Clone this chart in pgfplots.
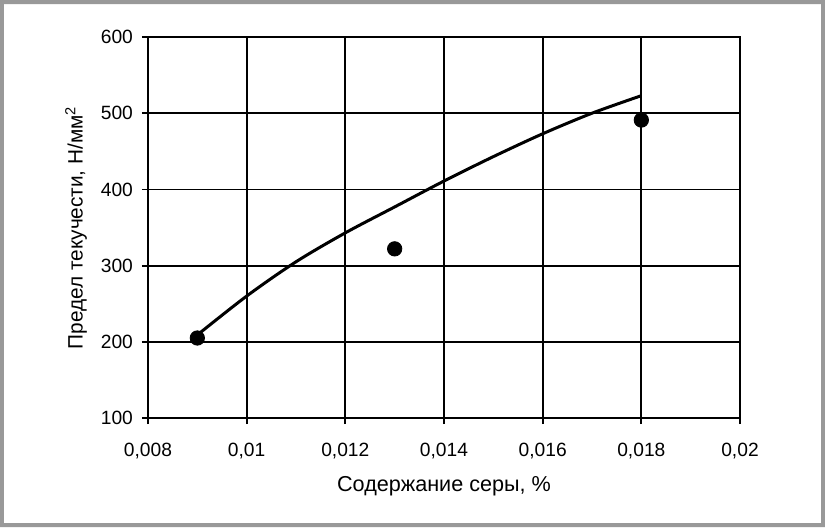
\documentclass[border=0pt]{standalone}
\usepackage{pgfplots}
\pgfplotsset{compat=1.18}
\usepackage{fontspec}
\setmainfont{Liberation Sans}
\begin{document}
\begin{tikzpicture}
\begin{axis}[
  at={(0,0)}, anchor=south west,
  scale only axis, width=296pt, height=190.5pt,
  xmin=0.008, xmax=0.02, ymin=100, ymax=600,
  xtick={0.008,0.01,0.012,0.014,0.016,0.018,0.02},
  xticklabels={{0,008},{0,01},{0,012},{0,014},{0,016},{0,018},{0,02}},
  ytick={100,200,300,400,500,600},
  scaled x ticks=false,
  tick pos=left,
  /pgf/number format/assume math mode=true,
  tick align=outside, major tick length=3pt,
  tick style={black, line width=0.9pt},
  grid=major, grid style={black, line width=0.9pt},
  axis line style={black, line width=1pt},
  ticklabel style={font=\fontsize{9.6}{11}\selectfont},
  xticklabel style={yshift=-6pt},
  yticklabel style={xshift=-1pt},
  every axis x label/.style={at={(axis description cs:0.5,0)}, yshift=-34pt, anchor=center, font=\fontsize{10.8}{12}\selectfont},
  every axis y label/.style={at={(axis description cs:0,0.5)}, xshift=-36pt, rotate=90, anchor=center, font=\fontsize{10.4}{12}\selectfont},
  xlabel={Содержание серы, \%},
  ylabel={Предел текучести, Н/мм\textsuperscript{2}},
  clip=false,
]
\addplot[black, line width=1.5pt, smooth] coordinates {
 (0.009,209) (0.010,260) (0.011,305) (0.012,343) (0.013,377) (0.014,411)
 (0.015,443) (0.016,473) (0.017,500) (0.018,523)};
\addplot[only marks, mark=*, mark size=3.6pt, black] coordinates {
 (0.009,205) (0.013,322) (0.018,491)};
\end{axis}
\fill[gray!80, even odd rule] (-74pt,-54.5pt) rectangle (338.5pt,209pt)
  (-72pt,-52.5pt) rectangle (336.5pt,207pt);
\end{tikzpicture}
\end{document}
